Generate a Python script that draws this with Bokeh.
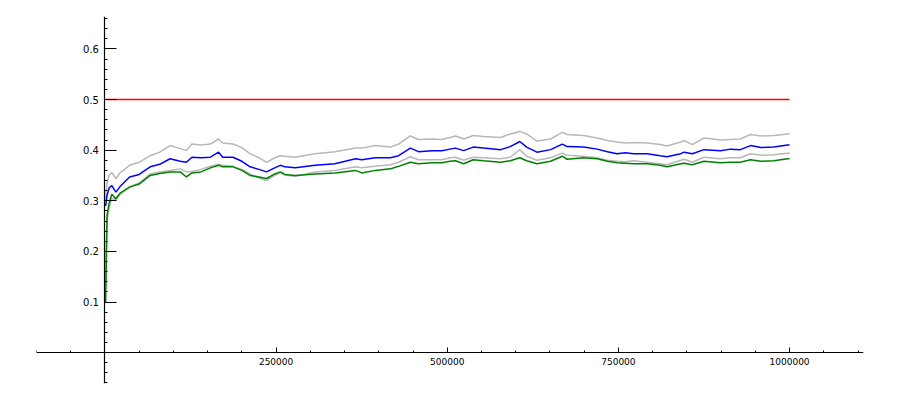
from bokeh.plotting import figure
from bokeh.models import SingleIntervalTicker, CustomJSTickFormatter, Range1d
from bokeh.embed import file_html
from bokeh.resources import INLINE

x = [1000, 3000, 6000, 10000, 16000, 22000, 36000, 50000, 66000, 80000,
     95000, 110000, 119000, 127000, 140000, 154000, 166000, 172000, 187000, 200000,
     212000, 225000, 236000, 248000, 256000, 263000, 278000, 307000, 336000, 366000,
     375000, 395000, 417000, 429000, 446000, 458000, 478000, 492000, 504000, 512000,
     524000, 538000, 553000, 578000, 592000, 606000, 616000, 631000, 651000, 668000,
     675000, 699000, 719000, 734000, 748000, 760000, 772000, 792000, 811000, 821000,
     841000, 846000, 858000, 875000, 899000, 914000, 928000, 943000, 958000, 977000,
     997000, 1000000]

blue = [0.290, 0.310, 0.325, 0.330, 0.317, 0.328, 0.347, 0.352, 0.367, 0.372,
        0.383, 0.378, 0.376, 0.386, 0.385, 0.386, 0.396, 0.386, 0.386, 0.378,
        0.367, 0.362, 0.357, 0.365, 0.370, 0.367, 0.365, 0.370, 0.373, 0.383,
        0.381, 0.385, 0.385, 0.389, 0.404, 0.397, 0.399, 0.399, 0.402, 0.404,
        0.399, 0.406, 0.404, 0.401, 0.407, 0.417, 0.406, 0.396, 0.401, 0.412,
        0.407, 0.406, 0.402, 0.397, 0.393, 0.395, 0.393, 0.393, 0.389, 0.387,
        0.393, 0.396, 0.393, 0.401, 0.399, 0.402, 0.401, 0.409, 0.405, 0.406,
        0.410, 0.410]

gray_upper = [0.300, 0.335, 0.350, 0.356, 0.344, 0.355, 0.370, 0.376, 0.389, 0.396,
              0.409, 0.403, 0.399, 0.412, 0.410, 0.412, 0.422, 0.414, 0.412, 0.405,
              0.393, 0.385, 0.376, 0.385, 0.389, 0.388, 0.386, 0.393, 0.397, 0.404,
              0.404, 0.409, 0.406, 0.412, 0.428, 0.421, 0.422, 0.421, 0.425, 0.428,
              0.422, 0.429, 0.427, 0.425, 0.432, 0.437, 0.432, 0.418, 0.422, 0.435,
              0.431, 0.429, 0.424, 0.419, 0.416, 0.414, 0.415, 0.414, 0.411, 0.408,
              0.416, 0.419, 0.411, 0.424, 0.420, 0.421, 0.422, 0.431, 0.428, 0.429,
              0.432, 0.433]

green = [0.100, 0.270, 0.295, 0.313, 0.304, 0.315, 0.327, 0.333, 0.350, 0.354,
         0.357, 0.357, 0.347, 0.355, 0.357, 0.365, 0.370, 0.367, 0.367, 0.360,
         0.350, 0.347, 0.344, 0.353, 0.357, 0.352, 0.350, 0.353, 0.355, 0.360,
         0.355, 0.360, 0.363, 0.368, 0.376, 0.373, 0.375, 0.375, 0.378, 0.379,
         0.373, 0.381, 0.379, 0.376, 0.379, 0.385, 0.379, 0.373, 0.378, 0.388,
         0.382, 0.385, 0.383, 0.378, 0.375, 0.374, 0.373, 0.373, 0.370, 0.367,
         0.373, 0.374, 0.371, 0.378, 0.375, 0.376, 0.376, 0.381, 0.378, 0.379,
         0.383, 0.383]

gray_lower = [0.130, 0.260, 0.285, 0.305, 0.302, 0.312, 0.328, 0.335, 0.353, 0.357,
              0.360, 0.363, 0.357, 0.358, 0.362, 0.368, 0.372, 0.370, 0.368, 0.362,
              0.353, 0.345, 0.340, 0.350, 0.355, 0.351, 0.348, 0.357, 0.360, 0.367,
              0.365, 0.368, 0.371, 0.376, 0.387, 0.381, 0.381, 0.381, 0.385, 0.386,
              0.380, 0.386, 0.385, 0.383, 0.386, 0.401, 0.388, 0.380, 0.385, 0.394,
              0.390, 0.388, 0.385, 0.380, 0.378, 0.377, 0.379, 0.376, 0.373, 0.371,
              0.380, 0.382, 0.376, 0.386, 0.383, 0.385, 0.385, 0.393, 0.390, 0.391,
              0.394, 0.394]

red_x = [1000, 1000000]
red_y = [0.5, 0.5]

p = figure(width=884, height=384, output_backend="svg", toolbar_location=None,
           x_range=Range1d(-100000, 1108000), y_range=Range1d(-0.061, 0.664),
           min_border_left=36, min_border_right=21, min_border_top=16, min_border_bottom=1)
p.outline_line_color = None
p.grid.visible = False
p.background_fill_color = "white"
p.border_fill_color = "white"

p.line(x, gray_upper, line_color="#b8b8b8", line_width=1.5)
p.line(x, gray_lower, line_color="#b8b8b8", line_width=1.5)
p.line(x, blue, line_color="#0000ff", line_width=1.5)
p.line(x, green, line_color="#008000", line_width=1.5)
p.line(red_x, red_y, line_color="#ff0000", line_width=1.5)

font = "DejaVu Sans"

xa = p.xaxis[0]
xa.fixed_location = 0
xa.ticker = SingleIntervalTicker(interval=250000, num_minor_ticks=5)
xa.formatter = CustomJSTickFormatter(code="return Math.abs(tick) < 1 ? '' : tick.toFixed(0);")
xa.axis_line_color = "black"
xa.axis_line_width = 1.2
xa.major_tick_in = 5
xa.major_tick_out = 0
xa.minor_tick_in = 2
xa.minor_tick_out = 0
xa.major_tick_line_color = "black"
xa.minor_tick_line_color = "black"
xa.major_label_standoff = 5
xa.major_label_text_font = font
xa.major_label_text_font_size = "9px"
xa.major_label_text_color = "black"

ya = p.yaxis[0]
ya.fixed_location = 0
ya.ticker = SingleIntervalTicker(interval=0.1, num_minor_ticks=5)
ya.formatter = CustomJSTickFormatter(code="return Math.abs(tick) < 1e-9 ? '' : tick.toFixed(1);")
ya.axis_line_color = "black"
ya.axis_line_width = 1.2
ya.major_tick_in = 12
ya.major_tick_out = 0
ya.minor_tick_in = 3
ya.minor_tick_out = 0
ya.major_tick_line_color = "black"
ya.minor_tick_line_color = "black"
ya.major_label_standoff = 6
ya.major_label_text_font = font
ya.major_label_text_font_size = "10px"
ya.major_label_text_color = "black"

open("out.html", "w").write(file_html(p, INLINE))
